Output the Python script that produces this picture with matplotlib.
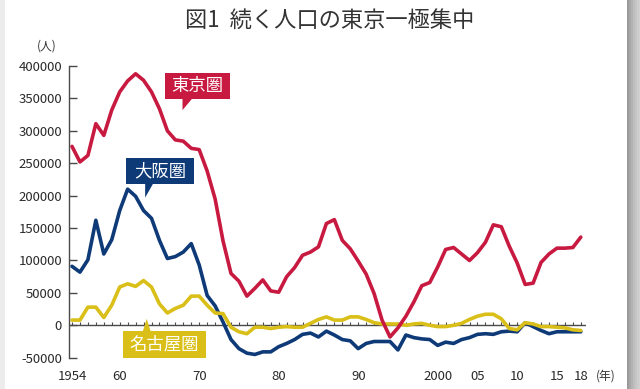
"""
Recreate: 図1 続く人口の東京一極集中 (net migration into the three big
metropolitan areas, 1954-2018). Saves out.png.
"""

import matplotlib
matplotlib.use("Agg")
import matplotlib.pyplot as plt
from matplotlib.patches import Rectangle, Polygon

plt.rcParams["font.family"] = ["Noto Sans CJK JP", "DejaVu Sans"]

# ---- data (persons) ----
years = list(range(1954, 2019))
tokyo = [276, 252, 262, 311, 293, 332, 360, 377, 388, 378,
         360, 334, 300, 286, 284, 273, 271, 238, 195, 130,
         80, 68, 45, 57, 70, 53, 51, 75, 89, 108,
         113, 121, 157, 163, 131, 118, 99, 79, 49, 8,
         -18, -4, 14, 36, 61, 66, 90, 117, 120, 110,
         100, 112, 128, 155, 152, 122, 96, 63, 65, 97,
         110, 119, 119, 120, 136]
osaka = [91, 82, 101, 162, 110, 132, 177, 210, 199, 177,
         165, 131, 103, 106, 113, 126, 93, 46, 30, 5,
         -22, -36, -43, -45, -41, -41, -33, -28, -22, -14,
         -12, -18, -9, -15, -22, -24, -36, -28, -25, -25,
         -25, -38, -15, -19, -21, -22, -31, -26, -28, -22,
         -19, -14, -13, -14, -10, -9, -10, 4, -2, -8,
         -13, -10, -10, -10, -10]
nagoya = [8, 8, 28, 28, 12, 31, 59, 64, 60, 69,
          59, 33, 19, 26, 31, 45, 45, 31, 19, 18,
          -3, -10, -13, -3, -3, -5, -3, -2, -3, -3,
          3, 9, 13, 8, 8, 13, 13, 9, 4, 2,
          2, 2, 0, 2, 3, 0, -2, -2, 0, 3,
          9, 14, 17, 17, 10, -5, -7, 4, 2, -2,
          -2, -3, -4, -7, -8]
tokyo = [v * 1000 for v in tokyo]
osaka = [v * 1000 for v in osaka]
nagoya = [v * 1000 for v in nagoya]

ytick_values = [-50000, 0, 50000, 100000, 150000, 200000,
                250000, 300000, 350000, 400000]
xtick_years = [1954, 1960, 1970, 1980, 1990, 2000, 2005, 2010, 2015, 2018]
xtick_labels = ["1954", "60", "70", "80", "90", "2000", "05", "10", "15", "18"]

RED, NAVY, GOLD = "#c81a40", "#0f3a78", "#d9bf17"
AXIS = "#4a4a4a"
TEXT = "#2a2a2a"

W, H = 640, 389
fig = plt.figure(figsize=(W / 100, H / 100), dpi=100)
fig.patch.set_facecolor("white")

# card edges: faint left border and grey drop shadow on the right
bg = fig.add_axes([0, 0, 1, 1], zorder=-10)
bg.set_xlim(0, W); bg.set_ylim(0, H); bg.axis("off")
bg.add_patch(Rectangle((0, 0), 5, H, fc="#ececec", ec="none"))
for i, c in enumerate(["#9a9a9a", "#a8a8a8", "#b4b4b4", "#bebebe",
                       "#c6c6c6", "#cdcdcd", "#d2d2d2"]):
    bg.add_patch(Rectangle((627 + 2 * i, 0), 2, H, fc=c, ec="none"))

# plot area in pixels: spine x=69..586, y from 66 (400000) to 357.7 (-50000)
ax = fig.add_axes([69 / W, (H - 357.7) / H, (586 - 69) / W, (357.7 - 66) / H])
ax.set_xlim(1954 - 3 / 7.95, 1954 + (586 - 72) / 7.95)
ax.set_ylim(-50000, 400000)
ax.patch.set_alpha(0)

for s in ("top", "right", "bottom"):
    ax.spines[s].set_visible(False)
ax.spines["left"].set_color(AXIS)
ax.spines["left"].set_linewidth(1)

ax.set_yticks(ytick_values)
ax.set_yticklabels([str(v) for v in ytick_values])
ax.tick_params(axis="y", direction="in", length=6, width=1, color=AXIS,
               labelsize=9.5, labelcolor=TEXT, pad=5)
ax.set_xticks(xtick_years)
ax.set_xticklabels(xtick_labels)
ax.tick_params(axis="x", length=0, labelsize=9.5, labelcolor=TEXT, pad=9)

# zero line with a small tick for every year
ax.axhline(0, color=AXIS, lw=1, zorder=2)
ax.vlines(years, 0, 4500, color=AXIS, lw=0.8, zorder=2)

line_kw = dict(lw=2.6, solid_joinstyle="round", solid_capstyle="round")
ax.plot(years, osaka, color=NAVY, zorder=3, **line_kw)
ax.plot(years, nagoya, color=GOLD, zorder=4, **line_kw)
ax.plot(years, tokyo, color=RED, zorder=5, **line_kw)


def callout(text, color, x0, x1, y0, y1, tip, base):
    ax.add_patch(Rectangle((x0, y0), x1 - x0, y1 - y0, fc=color, ec="none",
                           zorder=6, clip_on=False))
    ax.add_patch(Polygon([base[0], base[1], tip], closed=True, fc=color,
                         ec="none", zorder=6, clip_on=False))
    ax.text((x0 + x1) / 2, (y0 + y1) / 2, text, color="white", fontsize=12.5,
            ha="center", va="center", zorder=7)


callout("東京圏", RED, 1965.7, 1973.9, 349000, 389000,
        (1967.9, 332000), [(1967.9, 349500), (1969.1, 349500)])
callout("大阪圏", NAVY, 1960.8, 1969.3, 218000, 258000,
        (1963.2, 197000), [(1963.2, 218500), (1964.2, 218500)])
callout("名古屋圏", GOLD, 1960.4, 1970.9, -51000, -9000,
        (1963.4, 10000), [(1962.9, -9500), (1963.9, -9500)])

fig.text(47 / W, 1 - 46 / H, "(人)", fontsize=8.5, color="#333333",
         ha="center", va="center")
fig.text(606 / W, 1 - 376 / H, "(年)", fontsize=8.5, color="#333333",
         ha="center", va="center")
fig.text(330 / W, 1 - 20 / H, "図1  続く人口の東京一極集中", fontsize=16,
         color="#333333", ha="center", va="center")

fig.savefig("out.png", dpi=100)
